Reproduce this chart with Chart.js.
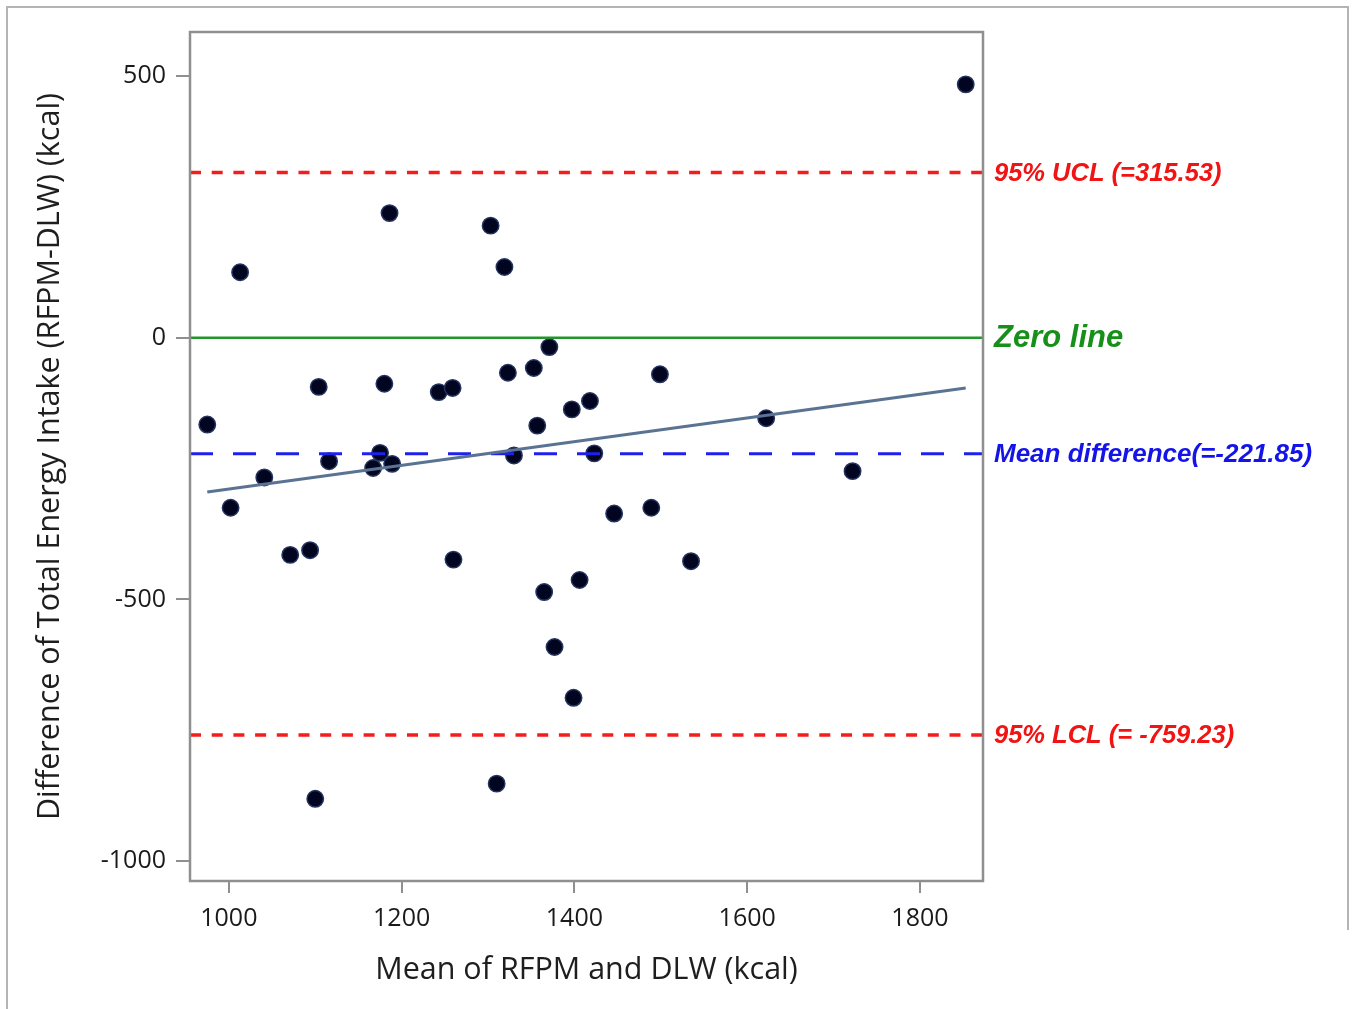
<!DOCTYPE html>
<html>
<head>
<meta charset="utf-8">
<script src="https://cdn.jsdelivr.net/npm/chart.js@4/dist/chart.umd.min.js"></script>
<style>
  html, body { margin: 0; padding: 0; background: #fff; }
  #wrap { width: 1352px; height: 1009px; position: relative; }
</style>
</head>
<body>
<div id="wrap"><canvas id="baChart"></canvas></div>
<script>
// Bland-Altman data: mean of the two methods (x) and their difference (y)
const meanValues = [975, 1002, 1013, 1041, 1071, 1094, 1100, 1104, 1116, 1167,
  1175, 1180, 1186, 1189, 1243, 1259, 1260, 1303, 1310, 1319,
  1323, 1330, 1353, 1357, 1365, 1371, 1377, 1397, 1399, 1406,
  1418, 1423, 1446, 1489, 1499, 1535, 1622, 1722, 1853];
const diffValues = [-166, -325, 125, -267, -415, -406, -881, -94, -236, -249,
  -220, -88, 238, -241, -104, -96, -424, 214, -852, 135,
  -67, -225, -58, -168, -486, -18, -591, -137, -688, -463,
  -121, -221, -336, -325, -70, -427, -154, -255, 484];

const UCL = 315.53;
const MEAN_DIFF = -221.85;
const LCL = -759.23;

// trend line through the differences
const fitX = [975, 1853];
const fitY = [-295, -96];

const xTickValues = [1000, 1200, 1400, 1600, 1800];
const yTickValues = [-1000, -500, 0, 500];
const X_MIN = 955, X_MAX = 1873;
const Y_MIN = -1038, Y_MAX = 584;

const refLines = [
  { value: UCL, label: '95% UCL (=315.53)', color: '#f01414', size: 25.5 },
  { value: 0, label: 'Zero line', color: '#17901a', size: 31 },
  { value: MEAN_DIFF, label: 'Mean difference(=-221.85)', color: '#1414e8', size: 26 },
  { value: LCL, label: '95% LCL (= -759.23)', color: '#f01414', size: 25.5 }
];

const points = meanValues.map((m, i) => ({ x: m, y: diffValues[i] }));
const hLine = v => [{ x: X_MIN, y: v }, { x: X_MAX, y: v }];

const decor = {
  id: 'decor',
  beforeDraw(chart) {
    const ctx = chart.ctx;
    ctx.save();
    ctx.fillStyle = '#fff';
    ctx.fillRect(0, 0, chart.width, chart.height);
    // outer picture frame
    ctx.strokeStyle = '#b4b4b4';
    ctx.lineWidth = 2;
    ctx.beginPath();
    ctx.moveTo(7, 1009);
    ctx.lineTo(7, 7);
    ctx.lineTo(1348, 7);
    ctx.lineTo(1348, 930);
    ctx.stroke();
    ctx.restore();
  },
  afterDraw(chart) {
    const { ctx, chartArea: a, scales: { y } } = chart;
    ctx.save();
    ctx.strokeStyle = '#8f8f8f';
    ctx.lineWidth = 2.5;
    ctx.strokeRect(a.left, a.top, a.right - a.left, a.bottom - a.top);

    // labels at the right end of the reference lines
    ctx.textAlign = 'left';
    ctx.textBaseline = 'middle';
    refLines.forEach(r => {
      ctx.font = 'italic bold ' + r.size + 'px "Liberation Sans", Arial, sans-serif';
      ctx.fillStyle = r.color;
      ctx.fillText(r.label, a.right + 11, y.getPixelForValue(r.value) + 1);
    });

    // axis titles
    ctx.fillStyle = '#1e1e1e';
    ctx.font = '30.5px "Open Sans", sans-serif';
    ctx.textAlign = 'center';
    ctx.fillText('Mean of RFPM and DLW (kcal)', (a.left + a.right) / 2, 970);
    ctx.translate(50, (a.top + a.bottom) / 2);
    ctx.rotate(-Math.PI / 2);
    ctx.fillText('Difference of Total Energy Intake (RFPM-DLW) (kcal)', 0, 0);
    ctx.restore();
  }
};

const tickFont = { family: '"Open Sans", sans-serif', size: 25 };
const plainNumber = v => String(v);

new Chart(document.getElementById('baChart').getContext('2d'), {
  type: 'scatter',
  data: {
    datasets: [
      {
        label: 'Differences',
        data: points,
        pointRadius: 8.2,
        pointBackgroundColor: '#020520',
        pointBorderColor: '#24345f',
        pointBorderWidth: 1.5,
        order: 10
      },
      {
        label: 'UCL',
        data: hLine(UCL),
        showLine: true,
        borderColor: '#f51c1c',
        borderWidth: 3.5,
        borderDash: [11, 10.7],
        pointRadius: 0,
        order: 2
      },
      {
        label: 'LCL',
        data: hLine(LCL),
        showLine: true,
        borderColor: '#f51c1c',
        borderWidth: 3.5,
        borderDash: [11, 10.7],
        pointRadius: 0,
        order: 2
      },
      {
        label: 'Zero',
        data: hLine(0),
        showLine: true,
        borderColor: '#22962a',
        borderWidth: 2.5,
        pointRadius: 0,
        order: 2
      },
      {
        label: 'Mean',
        data: hLine(MEAN_DIFF),
        showLine: true,
        borderColor: '#2020ee',
        borderWidth: 3,
        borderDash: [23, 20],
        pointRadius: 0,
        order: 2
      },
      {
        label: 'Fit',
        data: fitX.map((x, i) => ({ x, y: fitY[i] })),
        showLine: true,
        borderColor: '#5b7393',
        borderWidth: 3,
        pointRadius: 0,
        order: 1
      }
    ]
  },
  options: {
    responsive: true,
    maintainAspectRatio: false,
    animation: false,
    layout: { padding: { left: 0, right: 369, top: 32, bottom: 0 } },
    plugins: { legend: { display: false }, tooltip: { enabled: false } },
    scales: {
      x: {
        type: 'linear',
        min: X_MIN,
        max: X_MAX,
        afterBuildTicks: s => { s.ticks = xTickValues.map(v => ({ value: v })); },
        afterFit: s => { s.height = 128; },
        border: { display: false },
        grid: { drawOnChartArea: false, drawTicks: true, tickLength: 12, color: '#8f8f8f', lineWidth: 2 },
        ticks: { font: tickFont, color: '#1a1a1a', padding: 11, maxRotation: 0, callback: plainNumber }
      },
      y: {
        type: 'linear',
        min: Y_MIN,
        max: Y_MAX,
        afterBuildTicks: s => { s.ticks = yTickValues.map(v => ({ value: v })); },
        afterFit: s => { s.width = 190; },
        border: { display: false },
        grid: { drawOnChartArea: false, drawTicks: true, tickLength: 14, color: '#8f8f8f', lineWidth: 2 },
        ticks: { font: tickFont, color: '#1a1a1a', padding: 10, callback: plainNumber }
      }
    }
  },
  plugins: [decor]
});
</script>
</body>
</html>
